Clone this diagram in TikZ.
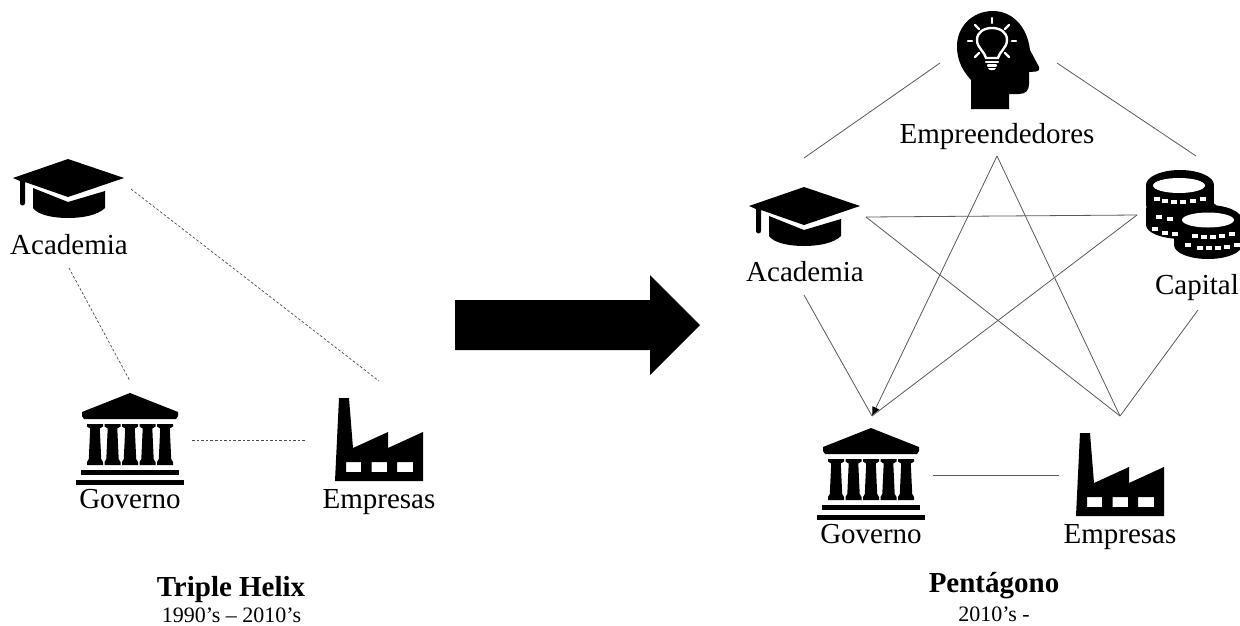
\documentclass[tikz,border=0pt]{standalone}
\usepackage{fontspec}
\setmainfont{Liberation Serif}
\usetikzlibrary{arrows.meta}
\tikzset{
  lbl/.style={anchor=base,inner sep=0pt,font=\fontsize{29}{29}\selectfont},
  titlelbl/.style={anchor=base,inner sep=0pt,font=\fontsize{29}{29}\selectfont\bfseries},
  sublbl/.style={anchor=base,inner sep=0pt,font=\fontsize{22}{22}\selectfont},
  dashline/.style={draw=black!70,line width=0.7pt,dash pattern=on 2.6pt off 2pt},
  solidline/.style={draw=black!65,line width=0.8pt},
  pics/cap/.style={code={
    \fill[black] (-55,19) -- (0,0) -- (56,19) -- (0,38) -- (-43,23) -- (-43,44) arc[start angle=0,end angle=180,radius=2.5] -- (-48,22) -- cycle;
    \fill[black] (-35,29) -- (0,43) -- (37,32) -- (37,49) .. controls (30,56) and (15,59) .. (0,59) .. controls (-15,59) and (-30,56) .. (-35,49) -- cycle;
  }},
  pics/temple/.style={code={
    \fill[black] (0,0) -- (48,19) -- (48,23) -- (46,26) -- (-46,26) -- (-48,23) -- (-48,19) -- cycle;
    \foreach \cx in {-35,-17.5,0,17.5,35}{
      \fill[black] (\cx-8,31) -- (\cx+8,31) -- (\cx+8,33.5) -- (\cx+4.8,35.5) -- (\cx+6.2,66) -- (\cx+8,69) -- (\cx+8,72) -- (\cx-8,72) -- (\cx-8,69) -- (\cx-6.2,66) -- (\cx-4.8,35.5) -- (\cx-8,33.5) -- cycle;
    }
    \fill[black] (-49,77) rectangle (49,82);
    \fill[black] (-54,87) rectangle (54,92);
  }},
  pics/factory/.style={code={
    \fill[black,even odd rule] (4,0) -- (14,0) -- (18,50) -- (53,34) -- (53,50) -- (88,34) -- (88,83) -- (0,83) -- cycle
      (11,64) rectangle (26,74) (36.5,64) rectangle (52,74) (62,64) rectangle (78,74);
  }}
}
\begin{document}
\begin{tikzpicture}[x=1pt,y=-1pt]
\useasboundingbox (0,0) rectangle (1240,625);
% left cluster
\pic at (68,159) {cap};
\pic at (130,393) {temple};
\pic at (335,398) {factory};
\node[lbl] (acaL) at (69,254) {Academia};
\node[lbl] (govL) at (130,508) {Governo};
\node[lbl] (empL) at (379,508) {Empresas};
\node[titlelbl] (triple) at (231,596) {Triple Helix};
\node[sublbl] (tripleS) at (231.5,622) {1990’s – 2010’s};
\coordinate (a1) at (131,189); \coordinate (a2) at (69,268);
\coordinate (e1) at (379,381); \coordinate (g1) at (130,381);
\coordinate (g2) at (192,440); \coordinate (e2) at (305,440);
\draw[dashline] (a1) -- (e1);
\draw[dashline] (a2) -- (g1);
\draw[dashline] (g2) -- (e2);
% big arrow
\fill[black] (455,300) -- (650,300) -- (650,275) -- (700,325) -- (650,375) -- (650,350) -- (455,350) -- cycle;
% right cluster
\pic at (804,187) {cap};
\pic at (871,428) {temple};
\pic at (1076,433) {factory};
% head
\fill[black] (971,109) -- (1009,109) -- (1009,94) -- (1019,94) .. controls (1026,94) and (1029,90) .. (1029,84) -- (1029,72) -- (1036,71.5) .. controls (1040,71) and (1040,68) .. (1038,65) -- (1030,50) .. controls (1027,25) and (1011,11) .. (993,11) .. controls (972,11) and (957,27) .. (957,46) .. controls (957,60) and (962,70) .. (971,80) -- cycle;
\begin{scope}[draw=white,line width=2.4pt,line cap=round]
  \draw (986,58) .. controls (985,52) and (977,48) .. (977,40) .. controls (977,32) and (984,28) .. (992,28) .. controls (1000,28) and (1007,32) .. (1007,40) .. controls (1007,48) and (999,52) .. (998,58) -- cycle;
  \draw (992,18) -- (992,23);
  \draw (975,25) -- (979,29);
  \draw (1009,25) -- (1005,29);
  \draw (968,41) -- (972,41);
  \draw (1012,41) -- (1016,41);
  \draw (975,57) -- (979,53);
  \draw (1009,57) -- (1005,53);
  \draw (986,62) -- (998,62);
  \draw (988,65.5) -- (996,65.5);
\end{scope}
\fill[white] (988,68) -- (996,68) .. controls (996,71) and (988,71) .. (988,68) -- cycle;
% coins
\begin{scope}
  \clip (1130,160) rectangle (1240,270);
  \fill[black] (1180,185) ellipse[x radius=34,y radius=15];
  \fill[black] (1146,185) rectangle (1214,205);
  \fill[black] (1180,205) ellipse[x radius=34,y radius=11];
  \fill[black] (1182,209) ellipse[x radius=36,y radius=12];
  \fill[black] (1146,209) rectangle (1218,225);
  \fill[black] (1182,225) ellipse[x radius=36,y radius=14];
  \fill[black] (1208,220) ellipse[x radius=34,y radius=15];
  \fill[black] (1174,220) rectangle (1242,245);
  \fill[black] (1208,245) ellipse[x radius=34,y radius=14];
  \fill[white] (1179,185.5) ellipse[x radius=26,y radius=7.5];
  \fill[white] (1208,220) ellipse[x radius=26,y radius=7.5];
  \foreach \dx/\dy in {1157/199,1165/201,1174/202,1183/202,1193/201,1203/199,
      1159/217,1170/219,1155/229,1165/233,1175/234,
      1195/236,1204/237,1213/237,1222/236,1232/234,
      1188/245,1200/248,1209/248,1218/248,1227/247,1237/245}{
    \fill[white] (\dx-2.7,\dy-2.4) rectangle (\dx+2.7,\dy+2.4);
  }
\end{scope}
\node[lbl] (emp) at (997,143) {Empreendedores};
\node[lbl] (acaR) at (805,281) {Academia};
\node[lbl] (capi) at (1197,294) {Capital};
\node[lbl] (govR) at (871,543) {Governo};
\node[lbl] (empR) at (1120,543) {Empresas};
\node[titlelbl] (pent) at (994,592) {Pentágono};
\node[sublbl] (pentS) at (994,621) {2010’s -};
\coordinate (hl) at (940,63); \coordinate (al) at (804,158);
\coordinate (hr) at (1057,63); \coordinate (cr) at (1196,156);
\coordinate (top) at (997,156);
\coordinate (gtip) at (872,416); \coordinate (etip) at (1120,416);
\coordinate (ar) at (866,217); \coordinate (cl) at (1137,215);
\coordinate (ab) at (804,295); \coordinate (cb) at (1198,310);
\coordinate (gr) at (933,475); \coordinate (el) at (1059,475);
\draw[solidline] (hl) -- (al);
\draw[solidline] (hr) -- (cr);
\draw[solidline,-{Latex[length=9pt,width=8pt,black]}] (top) -- (gtip);
\draw[solidline] (top) -- (etip);
\draw[solidline] (ar) -- (cl);
\draw[solidline] (ar) -- (etip);
\draw[solidline] (cl) -- (gtip);
\draw[solidline] (ab) -- (gtip);
\draw[solidline] (cb) -- (etip);
\draw[solidline] (gr) -- (el);
\end{tikzpicture}
\end{document}
